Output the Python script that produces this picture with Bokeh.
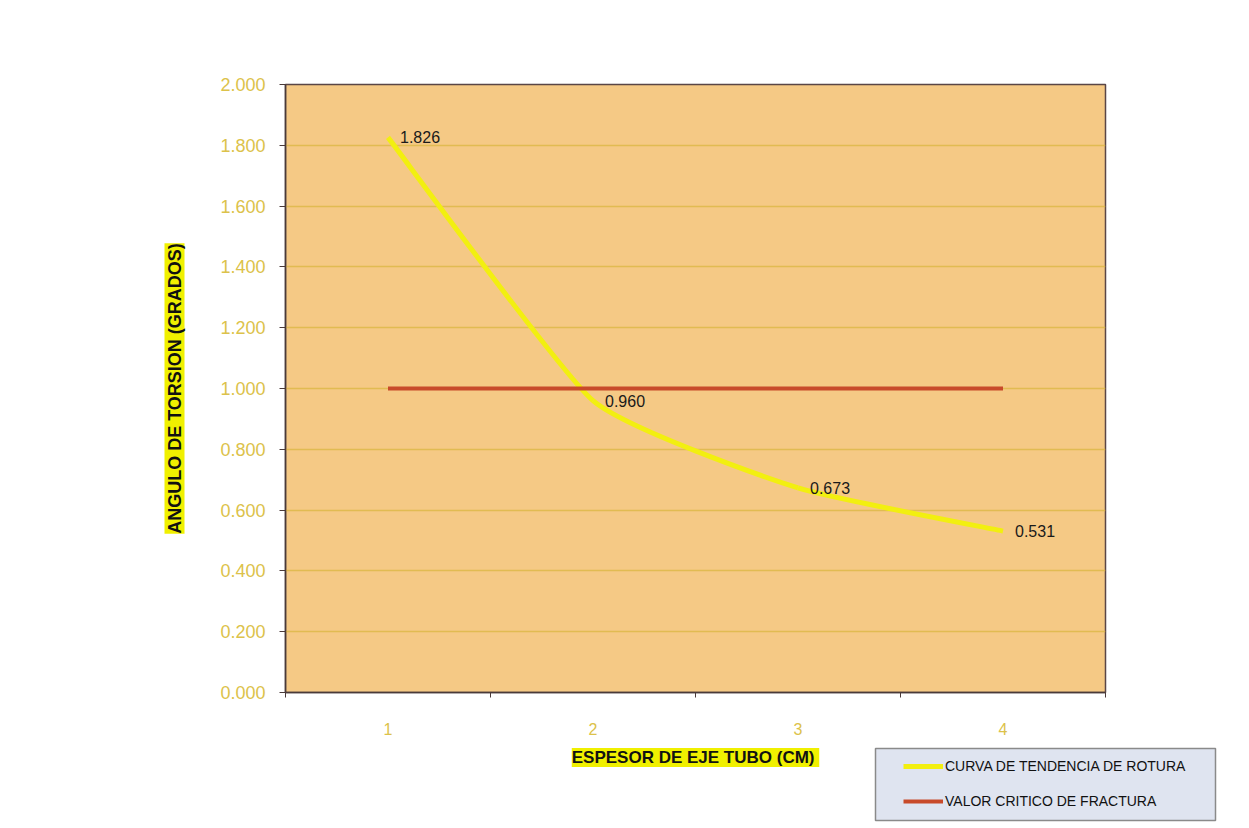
from bokeh.plotting import figure
from bokeh.models import (FixedTicker, Title, Legend, LegendItem, ColumnDataSource,
                          LabelSet, Label, NumeralTickFormatter, Range1d)
from bokeh.core.properties import value
from bokeh.embed import file_html
from bokeh.resources import INLINE

# data
espesor = [1, 2, 3, 4]
angulo = [1.826, 0.960, 0.673, 0.531]
critico = [1.0, 1.0, 1.0, 1.0]
etiquetas = ["1.826", "0.960", "0.673", "0.531"]
y_ticks = [0.0, 0.2, 0.4, 0.6, 0.8, 1.0, 1.2, 1.4, 1.6, 1.8, 2.0]

FONT = "Liberation Sans"
YELLOW = "#f2ef10"
RED = "#c84a2a"

p = figure(width=1249, height=740, output_backend="svg", toolbar_location=None,
           x_range=Range1d(0.5, 4.5), y_range=Range1d(0, 2.0),
           min_border_left=285, min_border_right=144, min_border_top=84,
           min_border_bottom=48)
p.background_fill_color = "#f5c985"
p.border_fill_color = "white"
p.outline_line_color = "#5a4646"
p.outline_line_width = 1.5

# grid
p.xgrid.grid_line_color = None
p.ygrid.grid_line_color = "#dcb845"
p.ygrid.grid_line_alpha = 0.8
p.ygrid.grid_line_width = 1.3

# axes
p.yaxis.ticker = FixedTicker(ticks=y_ticks)
p.yaxis.formatter = NumeralTickFormatter(format="0.000")
p.xaxis.ticker = FixedTicker(ticks=espesor, minor_ticks=[0.5, 1.5, 2.5, 3.5, 4.5])
for ax in (p.xaxis[0], p.yaxis[0]):
    ax.axis_line_color = "#4a3a3a"
    ax.axis_line_width = 1.5
    ax.major_label_text_font = FONT
    ax.major_label_text_color = "#dcc24a"
    ax.major_label_text_font_size = "18px"
p.yaxis.major_tick_out = 6
p.yaxis.major_tick_in = 0
p.yaxis.major_tick_line_color = "#4a3a3a"
p.yaxis.minor_tick_line_color = None
p.yaxis.major_label_standoff = 14
p.xaxis.major_tick_line_color = None
p.xaxis.minor_tick_out = 5
p.xaxis.minor_tick_in = 0
p.xaxis.minor_tick_line_color = "#4a3a3a"
p.xaxis.major_label_standoff = 24
p.xaxis.major_label_text_font_size = "16px"

# series
src = ColumnDataSource(dict(x=espesor, y=angulo, t=etiquetas))

# smoothed curve through the data points (Bezier segments)
k = 0.08
x0, y0, x1, y1, cx0, cy0, cx1, cy1 = [], [], [], [], [], [], [], []
n = len(espesor)
for i in range(n - 1):
    pm = (espesor[max(i - 1, 0)], angulo[max(i - 1, 0)])
    pa = (espesor[i], angulo[i])
    pb = (espesor[i + 1], angulo[i + 1])
    pn = (espesor[min(i + 2, n - 1)], angulo[min(i + 2, n - 1)])
    x0.append(pa[0]); y0.append(pa[1]); x1.append(pb[0]); y1.append(pb[1])
    cx0.append(pa[0] + (pb[0] - pm[0]) * k); cy0.append(pa[1] + (pb[1] - pm[1]) * k)
    cx1.append(pb[0] - (pn[0] - pa[0]) * k); cy1.append(pb[1] - (pn[1] - pa[1]) * k)
p.bezier(x0=x0, y0=y0, x1=x1, y1=y1, cx0=cx0, cy0=cy0, cx1=cx1, cy1=cy1,
         line_color=YELLOW, line_width=5)
p.line(espesor, critico, line_color=RED, line_width=4)

labels = LabelSet(x="x", y="y", text="t", source=src, x_offset=12, y_offset=0,
                  text_baseline="middle", text_font=value(FONT), text_font_size="16px",
                  text_color="#1a1a1a")
p.add_layout(labels)

# y axis title with highlight
ytitle = Title(text="ANGULO DE TORSION (GRADOS)", align="center", text_font=FONT,
               text_font_size="18px", text_font_style="bold", text_color="#111111",
               background_fill_color="#f0f000", standoff=66)
p.add_layout(ytitle, "left")

# lower strip: x axis title and legend (separate root, not frame-aligned)
H2 = 88
q = figure(width=1249, height=H2, output_backend="svg", toolbar_location=None,
           x_range=Range1d(0, 1249), y_range=Range1d(H2, 0),
           min_border=0, x_axis_type=None, y_axis_type=None)
q.outline_line_color = None
q.grid.visible = False
q.background_fill_color = "white"
q.border_fill_color = "white"

xtitle = Label(x=695, y=17, text="ESPESOR DE EJE TUBO  (CM)", text_align="center",
               text_baseline="middle", text_font=FONT, text_font_size="17px",
               text_font_style="bold", text_color="#111111",
               background_fill_color="#f0f000")
q.add_layout(xtitle)

# legend box
q.quad(left=[875], right=[1215], top=[8], bottom=[80], fill_color="#dfe4f0",
       line_color="#8a8a8a", line_width=1.5)
nan = float("nan")
r1 = q.line(x=[nan], y=[nan], line_color=YELLOW, line_width=5)
r2 = q.line(x=[nan], y=[nan], line_color=RED, line_width=4)
legend = Legend(items=[LegendItem(label="CURVA DE TENDENCIA DE ROTURA", renderers=[r1]),
                       LegendItem(label="VALOR CRITICO DE FRACTURA", renderers=[r2])],
                location=(903, 17), background_fill_alpha=0, border_line_color=None,
                label_text_font=FONT, label_text_font_size="14px",
                label_text_color="#111111", glyph_width=40, label_standoff=2,
                padding=2, spacing=15, label_height=20, glyph_height=20, margin=0)
q.add_layout(legend, "center")

open("out.html", "w").write(file_html([p, q], INLINE))
